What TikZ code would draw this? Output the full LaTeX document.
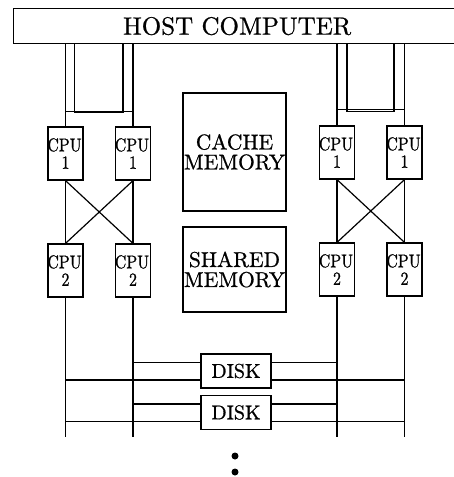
\documentclass[tikz,border=0pt]{standalone}
\usepackage{fontspec}
\setmainfont{lmroman10-regular.otf}[FakeBold=0.8]
\newfontfamily\cpufont{lmroman10-regular.otf}[FakeStretch=0.86, FakeBold=0.8]
\tikzset{
    box/.style={draw, inner sep=0pt},
    cpubox/.style={box, minimum width=35pt, minimum height=53pt, align=center,
        font=\cpufont\fontsize{18.5}{17.5}\selectfont},
    membox/.style={box, minimum width=103pt, align=center,
        font=\fontsize{21.5}{20}\selectfont},
    diskbox/.style={box, minimum width=70pt, minimum height=34pt,
        font=\fontsize{20}{22}\selectfont},
}
\begin{document}
\begin{tikzpicture}[x=1pt, y=-1pt, line width=1.2pt]
    \useasboundingbox (0,0) rectangle (453,477);

    % Host computer (open to the right)
    \node[box, anchor=north west, minimum width=447pt, minimum height=35pt,
        font=\fontsize{25}{30}\selectfont] (host) at (13,8) {HOST COMPUTER};
    \coordinate (bottom) at (0,437);

    % Memories in the middle
    \node[membox, minimum height=118pt] (cache) at (234.5,152) {CACHE\\MEMORY};
    \node[membox, minimum height=85pt] (shared) at (234.5,269.5) {SHARED\\MEMORY};

    % Disks
    \node[diskbox] (disk1) at (236,371) {DISK};
    \node[diskbox] (disk2) at (236,412.5) {DISK};

    % Left processor pair
    \begin{scope}
        \node[cpubox] (cpuLa1) at (65.5,153.5) {\makebox[0pt]{CPU\kern2pt}\\1};
        \node[cpubox] (cpuLb1) at (133,153.5) {\makebox[0pt]{CPU\kern2pt}\\1};
        \node[cpubox] (cpuLa2) at (65.5,270.5) {\makebox[0pt]{CPU\kern2pt}\\2};
        \node[cpubox] (cpuLb2) at (133,270.5) {\makebox[0pt]{CPU\kern2pt}\\2};
        % feeds from the host
        \draw (cpuLa1.north) -- (cpuLa1.north |- host.south);
        \draw (cpuLb1.north) -- (cpuLb1.north |- host.south);
        \draw ([xshift=9pt]cpuLa1.north |- host.south) -- ++(0,68)
            -| ([xshift=-10pt]cpuLb1.north |- host.south);
        \draw ([yshift=15pt]cpuLa1.north) -- ([yshift=15pt]cpuLb1.north);
        % crossed links
        \draw (cpuLa1.south) -- (cpuLa2.north) (cpuLb1.south) -- (cpuLb2.north);
        \draw (cpuLa1.south) -- (cpuLb2.north) (cpuLb1.south) -- (cpuLa2.north);
        % down to the disks
        \draw (cpuLa2.south) -- (cpuLa2.south |- bottom);
        \draw (cpuLb2.south) -- (cpuLb2.south |- bottom);
    \end{scope}

    % Right processor pair
    \begin{scope}
        \node[cpubox] (cpuRa1) at (337,152.5) {\makebox[0pt]{CPU\kern2pt}\\1};
        \node[cpubox] (cpuRb1) at (404.5,152.5) {\makebox[0pt]{CPU\kern2pt}\\1};
        \node[cpubox] (cpuRa2) at (337,269.5) {\makebox[0pt]{CPU\kern2pt}\\2};
        \node[cpubox] (cpuRb2) at (404.5,269.5) {\makebox[0pt]{CPU\kern2pt}\\2};
        % feeds from the host
        \draw (cpuRa1.north) -- (cpuRa1.north |- host.south);
        \draw (cpuRb1.north) -- (cpuRb1.north |- host.south);
        \draw ([xshift=10pt]cpuRa1.north |- host.south) -- ++(0,67)
            -| ([xshift=-10.5pt]cpuRb1.north |- host.south);
        \draw ([yshift=16pt]cpuRa1.north) -- ([yshift=16pt]cpuRb1.north);
        % crossed links
        \draw (cpuRa1.south) -- (cpuRa2.north) (cpuRb1.south) -- (cpuRb2.north);
        \draw (cpuRa1.south) -- (cpuRb2.north) (cpuRb1.south) -- (cpuRa2.north);
        % down to the disks
        \draw (cpuRa2.south) -- (cpuRa2.south |- bottom);
        \draw (cpuRb2.south) -- (cpuRb2.south |- bottom);
    \end{scope}

    % Disk buses
    \draw ([yshift=8.5pt]disk1.west) -- ([yshift=8.5pt]disk1.west -| cpuLb2.south);
    \draw ([yshift=-9pt]disk1.west) -- ([yshift=-9pt]disk1.west -| cpuLa2.south);
    \draw ([yshift=8.5pt]disk1.east) -- ([yshift=8.5pt]disk1.east -| cpuRa2.south);
    \draw ([yshift=-9pt]disk1.east) -- ([yshift=-9pt]disk1.east -| cpuRb2.south);
    \draw ([yshift=8.5pt]disk2.west) -- ([yshift=8.5pt]disk2.west -| cpuLb2.south);
    \draw ([yshift=-9pt]disk2.west) -- ([yshift=-9pt]disk2.west -| cpuLa2.south);
    \draw ([yshift=8.5pt]disk2.east) -- ([yshift=8.5pt]disk2.east -| cpuRa2.south);
    \draw ([yshift=-9pt]disk2.east) -- ([yshift=-9pt]disk2.east -| cpuRb2.south);

    % More disks follow
    \node[circle, fill, inner sep=0pt, minimum size=7pt] (dotA) at (235,456) {};
    \node[circle, fill, inner sep=0pt, minimum size=7pt] (dotB) at (235,472) {};
\end{tikzpicture}
\end{document}
